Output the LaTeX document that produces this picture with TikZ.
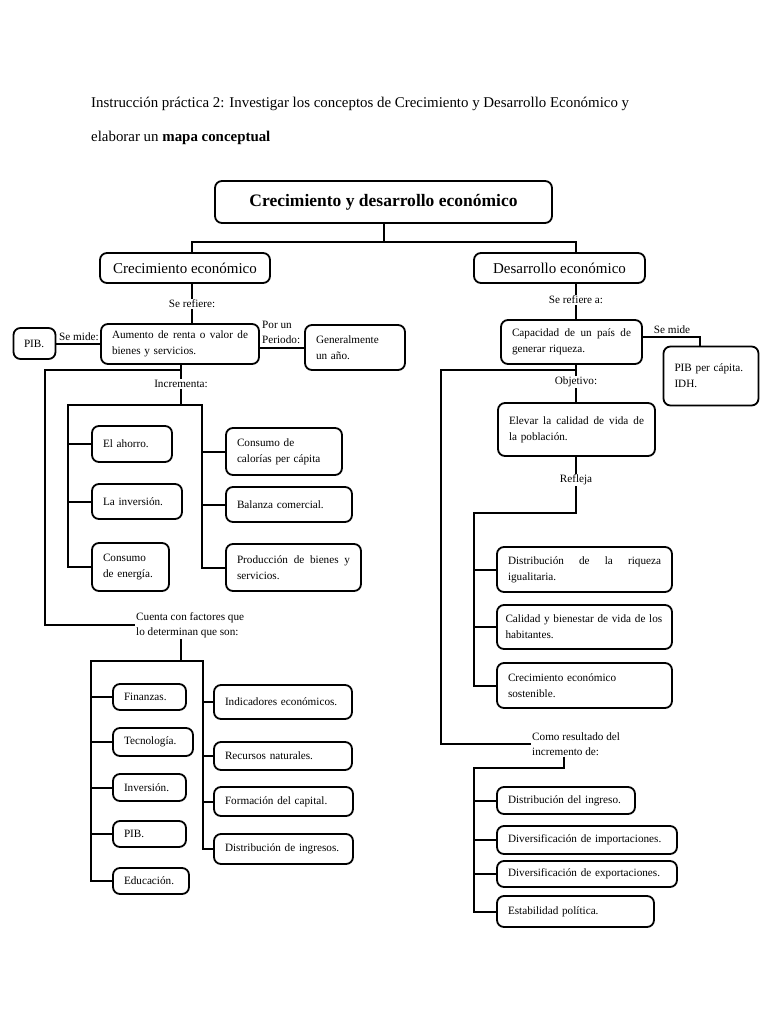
\documentclass[tikz,border=0pt]{standalone}
\usepackage{fontspec}
\setmainfont{Liberation Serif}
\newcommand{\boxfont}{\fontsize{11.2}{16}\selectfont}
\tikzset{
	concept/.style={draw, line width=1.8pt, rounded corners=7pt, align=left, inner xsep=11pt, inner ysep=2pt, font=\boxfont},
	headbox/.style={concept, align=center, inner xsep=4pt},
	linklabel/.style={inner sep=1pt, align=left, font=\fontsize{11.2}{15}\selectfont},
	conn/.style={line width=2pt},
}
\begin{document}
\begin{tikzpicture}[x=1pt, y=-1pt]
	\useasboundingbox[fill=white] (0,0) rectangle (768,1024);
	
	% Instruction text
	\node[anchor=base west, inner sep=0pt, font=\fontsize{14.9}{18}\selectfont] (instr) at (91,108) {Instrucción práctica 2: Investigar los conceptos de Crecimiento y Desarrollo Económico y};
	\node[anchor=base west, inner sep=0pt, font=\fontsize{14.9}{18}\selectfont] (instrb) at (91,142) {elaborar un \textbf{mapa conceptual}};
	
	% Axes of the connectors
	\coordinate (top) at (0,242);
	\coordinate (laxis) at (192,0);
	\coordinate (raxis) at (576,0);
	
	% Main concepts
	\node[headbox, minimum width=337pt, minimum height=42pt, font=\fontsize{17.5}{20}\selectfont\bfseries] (title) at (383.5,202) {Crecimiento y desarrollo económico};
	\node[headbox, minimum width=170pt, minimum height=30pt, font=\fontsize{15}{18}\selectfont] (ce) at (185,268) {Crecimiento económico};
	\node[headbox, minimum width=171pt, minimum height=30pt, font=\fontsize{15}{18}\selectfont] (de) at (559.5,268) {Desarrollo económico};
	
	\draw[conn] (laxis |- ce.north) |- (title.south |- top) -- (title.south);
	\draw[conn] (raxis |- de.north) |- (title.south |- top);
	
	% Crecimiento economico
	\node[linklabel] (serefiere) at (192,304) {Se refiere:};
	\node[concept, text width=136pt, minimum height=40pt] (aumento) at (180,344) {Aumento\hfill de\hfill renta\hfill o\hfill valor\hfill de\\bienes y servicios.};
	\node[concept, text width=21pt, minimum height=31pt, inner xsep=10.5pt] (pib) at (34.5,343.5) {PIB.};
	\node[concept, text width=78pt, minimum height=45pt] (general) at (355,347.5) {Generalmente\\un año.};
	\node[linklabel] (semide) at (79,337) {Se mide:};
	\node[linklabel, anchor=west] (porun) at (261,332.5) {Por un\\Periodo:};
	
	\draw[conn] (laxis |- ce.south) -- (laxis |- serefiere.north);
	\draw[conn] (laxis |- serefiere.south) -- (laxis |- aumento.north);
	\draw[conn] (pib.east) -- (pib.east -| aumento.west);
	\draw[conn] (general.west -| aumento.east) -- (general.west);
	
	% Incrementa
	\coordinate (lsplit) at (181,370);
	\coordinate (lspine) at (45,0);
	\coordinate (ibar) at (0,405);
	\coordinate (il) at (68,405);
	\coordinate (ir) at (202,405);
	\node[linklabel] (incrementa) at (181,384) {Incrementa:};
	\node[concept, text width=58pt, minimum height=36pt] (ahorro) at (132,444) {El ahorro.};
	\node[concept, text width=68pt, minimum height=35pt] (lainv) at (137,501.5) {La inversión.};
	\node[concept, text width=55pt, minimum height=48pt] (consen) at (130.5,567) {Consumo\\de energía.};
	\node[concept, text width=94pt, minimum height=47pt] (calorias) at (284,451.5) {Consumo de\\calorías per cápita};
	\node[concept, text width=104pt, minimum height=35pt] (balanza) at (289,504.5) {Balanza comercial.};
	\node[concept, text width=113pt, minimum height=47pt] (produccion) at (293.5,567.5) {Producción\hfill de\hfill bienes\hfill y\\servicios.};
	
	\draw[conn] (lsplit |- aumento.south) -- (lsplit |- incrementa.north);
	\draw[conn] (lsplit |- incrementa.south) -- (lsplit |- ibar);
	\draw[conn] (consen.west) -| (il) -- (ir) |- (produccion.west);
	\draw[conn] (ahorro.west) -- (ahorro.west -| il);
	\draw[conn] (lainv.west) -- (lainv.west -| il);
	\draw[conn] (calorias.west) -- (calorias.west -| ir);
	\draw[conn] (balanza.west) -- (balanza.west -| ir);
	
	% Factores
	\coordinate (fbar) at (0,661);
	\coordinate (fl) at (91,661);
	\coordinate (fr) at (203,661);
	\node[linklabel, anchor=west] (cuenta) at (135,625) {Cuenta con factores que\\lo determinan que son:};
	\node[concept, text width=51pt, minimum height=26pt] (finanzas) at (149.5,697) {Finanzas.};
	\node[concept, text width=58pt, minimum height=28pt] (tecnologia) at (153,742) {Tecnología.};
	\node[concept, text width=51pt, minimum height=27pt] (inversion) at (149.5,787.5) {Inversión.};
	\node[concept, text width=51pt, minimum height=26pt] (pibb) at (149.5,834) {PIB.};
	\node[concept, text width=54pt, minimum height=26pt] (educacion) at (151,881) {Educación.};
	\node[concept, text width=116pt, minimum height=34pt] (indicadores) at (283,702) {Indicadores económicos.};
	\node[concept, text width=116pt, minimum height=28pt] (recursos) at (283,756) {Recursos naturales.};
	\node[concept, text width=117pt, minimum height=29pt] (formacion) at (283.5,801.5) {Formación del capital.};
	\node[concept, text width=117pt, minimum height=30pt] (disting) at (283.5,849) {Distribución de ingresos.};
	
	\draw[conn] (lsplit) -| (lspine |- cuenta.west) -- (cuenta.west);
	\draw[conn] (lsplit |- cuenta.south) -- (lsplit |- fbar);
	\draw[conn] (educacion.west) -| (fl) -- (fr) |- (disting.west);
	\draw[conn] (finanzas.west) -- (finanzas.west -| fl);
	\draw[conn] (tecnologia.west) -- (tecnologia.west -| fl);
	\draw[conn] (inversion.west) -- (inversion.west -| fl);
	\draw[conn] (pibb.west) -- (pibb.west -| fl);
	\draw[conn] (indicadores.west) -- (indicadores.west -| fr);
	\draw[conn] (recursos.west) -- (recursos.west -| fr);
	\draw[conn] (formacion.west) -- (formacion.west -| fr);
	
	% Desarrollo economico
	\node[linklabel] (serefierea) at (576,300) {Se refiere a:};
	\node[concept, text width=119pt, minimum height=44pt] (capacidad) at (571.5,342) {Capacidad\hfill de\hfill un\hfill país\hfill de\\generar riqueza.};
	\node[concept, text width=73pt, minimum height=59pt] (pibpc) at (711,376) {PIB per cápita.\\IDH.};
	\node[linklabel] (semideb) at (672,330) {Se mide};
	
	\draw[conn] (raxis |- de.south) -- (raxis |- serefierea.north);
	\draw[conn] (raxis |- serefierea.south) -- (raxis |- capacidad.north);
	\draw[conn] ([yshift=5pt]capacidad.east) -| ([xshift=-11pt]pibpc.north);
	
	% Objetivo
	\coordinate (rsplit) at (576,370);
	\coordinate (rspine) at (441,0);
	\coordinate (rbar) at (474,513);
	\node[linklabel] (objetivo) at (576,382) {Objetivo:};
	\node[concept, text width=135pt, minimum height=53pt] (elevar) at (576.5,429.5) {Elevar\hfill la\hfill calidad\hfill de\hfill vida\hfill de\\la población.};
	\node[linklabel] (refleja) at (576,480) {Refleja};
	\node[concept, text width=153pt, minimum height=45pt] (riqueza) at (584.5,569.5) {Distribución\hfill de\hfill la\hfill riqueza\\igualitaria.};
	\node[concept, text width=158pt, minimum height=44pt, inner xsep=8.5pt] (calidad) at (584.5,627) {Calidad y bienestar de vida de los\\habitantes.};
	\node[concept, text width=153pt, minimum height=45pt] (sostenible) at (584.5,685.5) {Crecimiento económico\\sostenible.};
	
	\draw[conn] (rsplit |- capacidad.south) -- (rsplit |- objetivo.north);
	\draw[conn] (rsplit |- objetivo.south) -- (rsplit |- elevar.north);
	\draw[conn] (rsplit |- elevar.south) -- (rsplit |- refleja.north);
	\draw[conn] (rsplit |- refleja.south) |- (rbar) |- (sostenible.west);
	\draw[conn] (riqueza.west) -- (riqueza.west -| rbar);
	\draw[conn] (calidad.west) -- (calidad.west -| rbar);
	
	% Como resultado
	\coordinate (caxis) at (564,0);
	\coordinate (cbar) at (474,768);
	\node[linklabel, anchor=west] (como) at (531,744) {Como resultado del\\incremento de:};
	\node[concept, text width=116pt, minimum height=27pt] (distingreso) at (566,800.5) {Distribución del ingreso.};
	\node[concept, text width=158pt, minimum height=28pt] (import) at (587,840) {Diversificación de importaciones.};
	\node[concept, text width=158pt, minimum height=26pt] (export) at (587,874) {Diversificación de exportaciones.};
	\node[concept, text width=135pt, minimum height=31pt] (estab) at (575.5,911.5) {Estabilidad política.};
	
	\draw[conn] (rsplit) -| (rspine |- como.west) -- (como.west);
	\draw[conn] (caxis |- como.south) |- (cbar) |- (estab.west);
	\draw[conn] (distingreso.west) -- (distingreso.west -| cbar);
	\draw[conn] (import.west) -- (import.west -| cbar);
	\draw[conn] (export.west) -- (export.west -| cbar);
	
\end{tikzpicture}
\end{document}
